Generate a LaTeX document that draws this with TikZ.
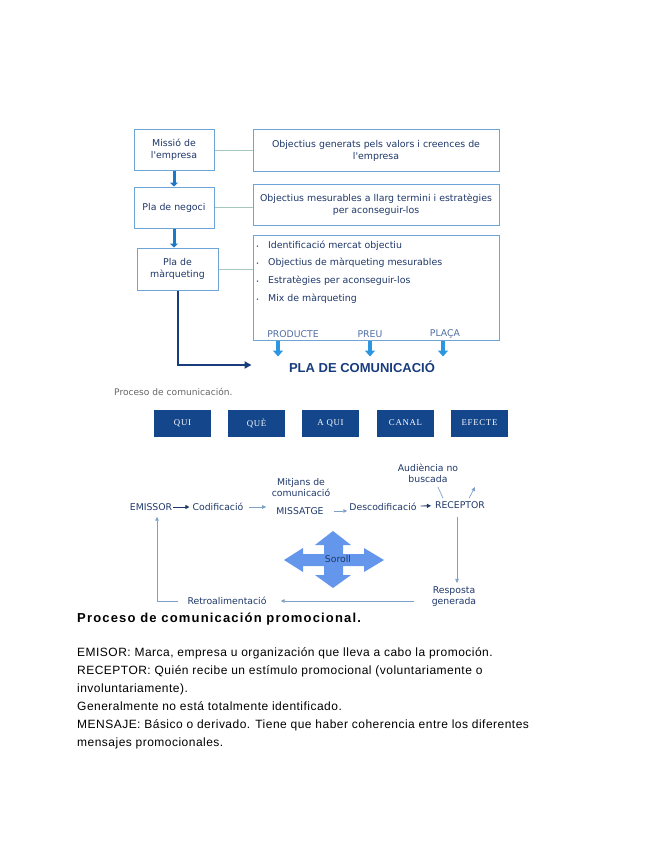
\documentclass[tikz,border=0pt]{standalone}
\usepackage{fontspec}
\setmainfont{Liberation Sans}
\newfontfamily\dejavu{DejaVu Sans}
\newfontfamily\timesf[LetterSpace=8]{Liberation Serif}
\usetikzlibrary{arrows.meta,positioning}

\definecolor{boxline}{RGB}{110,165,215}
\definecolor{navytext}{RGB}{30,55,105}
\definecolor{linkline}{RGB}{165,200,190}
\definecolor{thickblue}{RGB}{30,120,200}
\definecolor{brightblue}{RGB}{45,150,225}
\definecolor{navyline}{RGB}{25,60,125}
\definecolor{navybox}{RGB}{20,70,140}
\definecolor{mixtext}{RGB}{80,110,165}
\definecolor{flowline}{RGB}{125,160,200}
\definecolor{sorollfill}{RGB}{100,150,235}

\tikzset{
  box/.style={draw=boxline, line width=1pt, text=navytext, align=center,
    font=\dejavu\fontsize{9.4}{12}\selectfont, inner sep=2pt},
  qbox/.style={fill=navybox, text=white, font=\timesf\fontsize{8.8}{10}\selectfont,
    minimum width=57pt, minimum height=27pt, inner sep=0pt},
  flow/.style={text=navytext, font=\dejavu\fontsize{9.3}{11}\selectfont, align=center, inner sep=1pt},
  link/.style={draw=linkline, line width=0.8pt},
  downarrow/.style={draw=thickblue, line width=3pt, -{Triangle[length=4pt,width=8pt]}},
  mixarrow/.style={draw=brightblue, line width=3.5pt, -{Triangle[length=6pt,width=10pt]}},
  navyarrow/.style={draw=navyline, line width=2pt, -{Triangle[length=7pt,width=7pt]}},
  darkarrow/.style={draw=navytext, line width=0.9pt, -{Triangle[length=4pt,width=4pt]}},
  lightarrow/.style={draw=flowline, line width=0.7pt, -{Triangle[length=4pt,width=3.5pt]}},
}

\begin{document}
\begin{tikzpicture}[x=1pt,y=-1pt]
\useasboundingbox (0,0) rectangle (655,848);

% pla de empresa
\node[box, minimum width=80pt, minimum height=40pt] (missio) at (174,150) {Missió de\\l'empresa};
\node[box, minimum width=246pt, minimum height=41pt] (objgen) at (376,150.5) {Objectius generats pels valors i creences de\\l'empresa};
\node[box, minimum width=80pt, minimum height=41pt] (negoci) at (174,207.5) {Pla de negoci};
\node[box, minimum width=246pt, minimum height=41pt] (objmes) at (376,204.5) {Objectius mesurables a llarg termini i estratègies\\per aconseguir-los};
\node[box, minimum width=81pt, minimum height=42pt] (marq) at (177.5,269) {Pla de\\màrqueting};
\node[box, minimum width=246pt, minimum height=105pt] (mix) at (376,287.5) {};
\node[anchor=north west, text=navytext, align=left, inner sep=0pt,
  font=\dejavu\fontsize{9.4}{17.6}\selectfont] (llista) at (256,240.5) {%
  {\fontsize{5}{5}\selectfont\textbullet}\hspace{9pt}Identificació mercat objectiu\\
  {\fontsize{5}{5}\selectfont\textbullet}\hspace{9pt}Objectius de màrqueting mesurables\\
  {\fontsize{5}{5}\selectfont\textbullet}\hspace{9pt}Estratègies per aconseguir-los\\
  {\fontsize{5}{5}\selectfont\textbullet}\hspace{9pt}Mix de màrqueting};
\node[flow, text=mixtext] (producte) at (293,334) {PRODUCTE};
\node[flow, text=mixtext] (preu) at (370,334) {PREU};
\node[flow, text=mixtext] (placa) at (445,334) {PLAÇA};

\draw[link] (missio.east) -- (missio.east -| objgen.west);
\draw[link] (negoci.east) -- (negoci.east -| objmes.west);
\draw[link] (marq.east) -- (marq.east -| mix.west);
\draw[downarrow] (missio.south) -- (negoci.north);
\draw[downarrow] (negoci.south) -- (negoci.south |- marq.north);

\node[text=navyline, font=\bfseries\fontsize{13}{15}\selectfont] (placom) at (362,367) {PLA DE COMUNICACIÓ};
\foreach \x in {278,370,443}
  \draw[mixarrow] (\x,0 |- mix.south) -- ++(0,16);
\draw[navyarrow] (marq.south) |- ([xshift=-34pt,yshift=2pt]placom.west);

% proces de comunicacio
\node[anchor=west, text=black!60, font=\dejavu\fontsize{9.1}{10}\selectfont, inner sep=0pt] (proces) at (114,392) {Proceso de comunicación.};
\foreach \x/\t [count=\i] in {182.5/QUI,256.5/QUÈ,330.5/A QUI,405.5/CANAL,479.5/EFECTE}
  \node[qbox] (q\i) at (\x,423) {\t};

\node[flow] (emissor) at (151,507) {EMISSOR};
\node[flow] (codif) at (218,507) {Codificació};
\node[flow] (mitjans) at (301,488) {Mitjans de\\comunicació};
\node[flow] (missatge) at (300,511) {MISSATGE};
\node[flow] (descodif) at (383,507) {Descodificació};
\node[flow] (receptor) at (460,505) {RECEPTOR};
\node[flow] (audiencia) at (428,473) {Audiència no\\buscada};
\node[flow] (resposta) at (454,597) {Resposta\\generada};
\node[flow] (retro) at (227,601) {Retroalimentació};

\draw[darkarrow, shorten >=2pt] (emissor) -- (codif);
\draw[lightarrow, shorten <=4pt, shorten >=9pt] (codif.east) -- (codif.east -| missatge.west);
\draw[lightarrow, shorten <=9pt, shorten >=1pt] (missatge.east) -- (missatge.east -| descodif.west);
\draw[darkarrow, shorten <=3pt, shorten >=3pt] (descodif) -- (receptor);
\coordinate (tick1) at (438,487);
\coordinate (tick2) at (475,487);
\draw[flowline, line width=0.7pt] (tick1) -- ([xshift=-17pt,yshift=2pt]receptor.north);
\draw[lightarrow] ([xshift=9pt,yshift=2pt]receptor.north) -- (tick2);
\draw[lightarrow, shorten <=7pt, shorten >=3pt] ([xshift=-3pt]receptor.south) -- ([xshift=-3pt]receptor.south |- resposta.north);
\draw[lightarrow, shorten <=17pt, shorten >=13pt] (resposta.west |- retro) -- (retro.east);
\draw[lightarrow, shorten <=8pt, shorten >=5pt] (retro.west) -| ([xshift=6pt]emissor.south);

% soroll
\fill[sorollfill] (284,560) -- (303,548) -- (303,554) -- (324,554) -- (324,545) -- (315,545)
  -- (333,531) -- (351,545) -- (343,545) -- (343,554) -- (364,554) -- (364,548)
  -- (384,560) -- (364,572) -- (364,566) -- (343,566) -- (343,575) -- (351,575)
  -- (333,588) -- (315,575) -- (324,575) -- (324,566) -- (303,566) -- (303,572) -- cycle;
\node[flow] (soroll) at (338,559) {Soroll};

% text
\node[anchor=west, inner sep=0pt, font=\bfseries\fontsize{13}{15}\selectfont\addfontfeatures{LetterSpace=9}] (titol) at (77,619) {Proceso de comunicación promocional.};
\node[anchor=north west, align=left, inner sep=0pt, font=\fontsize{12}{18.1}\selectfont\addfontfeatures{LetterSpace=4}] (cos) at (77,647) {%
  EMISOR: Marca, empresa u organización que lleva a cabo la promoción.\\
  RECEPTOR: Quién recibe un estímulo promocional (voluntariamente o\\
  involuntariamente).\\
  Generalmente no está totalmente identificado.\\
  MENSAJE: Básico o derivado. Tiene que haber coherencia entre los diferentes\\
  mensajes promocionales.};
\end{tikzpicture}
\end{document}
